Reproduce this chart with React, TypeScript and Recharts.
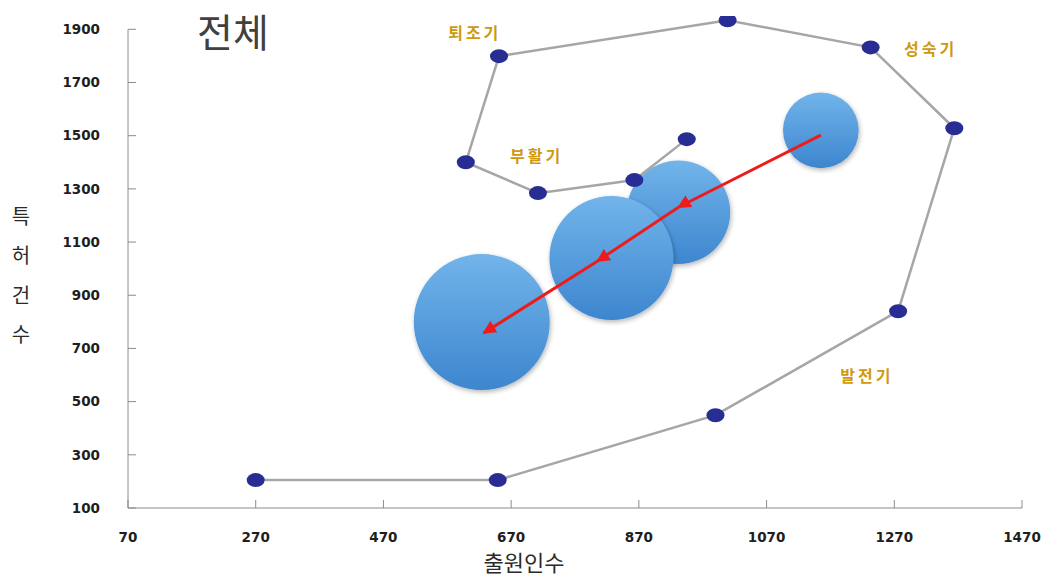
import React from 'react';
import { ScatterChart, Scatter, XAxis, YAxis, ZAxis, ReferenceLine } from 'recharts';

// axis ticks
const xTicks = [70, 270, 470, 670, 870, 1070, 1270, 1470];
const yTicks = [100, 300, 500, 700, 900, 1100, 1300, 1500, 1700, 1900];

// technology life cycle path: applicants (x) vs patents (y), in time order
const cycleApplicants = [270, 649, 990, 1276, 1364, 1233, 1009, 651, 599, 712, 863, 945];
const cyclePatents = [205, 205, 449, 840, 1528, 1832, 1934, 1799, 1400, 1284, 1333, 1487];

// period bubbles (relative size)
const bubbleApplicants = [1155, 932, 827, 624];
const bubblePatents = [1520, 1212, 1040, 799];
const bubbleSizes = [31, 58, 83, 100];

// trend arrow through the periods
const trendApplicants = [1155, 932, 805, 627];
const trendPatents = [1502, 1231, 1028, 758];

// phase annotations
const phaseNames = ['퇴조기', '성숙기', '부활기', '발전기'];
const phaseApplicants = [613, 1327, 710, 1227];
const phasePatents = [1889, 1829, 1427, 600];

const cycleData = cycleApplicants.map((x, i) => ({ x, y: cyclePatents[i] }));
const bubbleData = bubbleApplicants.map((x, i) => ({ x, y: bubblePatents[i], z: bubbleSizes[i] }));
const trendData = trendApplicants.map((x, i) => ({ x, y: trendPatents[i] }));
const phaseData = phaseNames.map((name, i) => ({ x: phaseApplicants[i], y: phasePatents[i], name }));

const axisColor = '#8c8c8c';
const tickStyle = { fontFamily: '"DejaVu Sans", sans-serif', fontSize: 13.5, fontWeight: 700, fill: '#1e1e1e' };
const krFont = '"Noto Sans CJK KR", sans-serif';

const CycleDot = (p: any) => <ellipse cx={p.cx} cy={p.cy} rx={9} ry={7} fill="#282d94" />;

const Bubble = (p: any) => {
  const r = p.size != null ? Math.sqrt(Math.max(p.size, 0) / Math.PI) : p.width / 2;
  return <circle cx={p.cx} cy={p.cy} r={r} fill="url(#bubbleFill)" filter="url(#bubbleShadow)" />;
};

const PhaseLabel = (p: any) => (
  <text
    x={p.cx}
    y={p.cy}
    textAnchor="middle"
    dominantBaseline="central"
    fontFamily={krFont}
    fontWeight={700}
    fontSize={16}
    letterSpacing={3}
    fill="#cf990f"
  >
    {p.payload.name}
  </text>
);

const Nothing = () => <g />;

const TrendLine = (lp: any) => {
  const pts = lp.points || [];
  const d = pts.map((pt: any, i: number) => `${i === 0 ? 'M' : 'L'}${pt.x},${pt.y}`).join(' ');
  return (
    <path
      d={d}
      fill="none"
      stroke="#ee1b1b"
      strokeWidth={3}
      markerMid="url(#arrowHead)"
      markerEnd="url(#arrowHead)"
    />
  );
};

export default function App() {
  return (
    <div style={{ position: 'absolute', left: 0, top: 0, background: '#fff' }}>
      <ScatterChart width={1043} height={578} margin={{ top: 16, right: 21, bottom: 0, left: 0 }}>
        <defs>
          <linearGradient id="bubbleFill" x1="0" y1="0" x2="0" y2="1">
            <stop offset="0%" stopColor="#72b4ea" />
            <stop offset="100%" stopColor="#3d86cf" />
          </linearGradient>
          <filter id="bubbleShadow" x="-20%" y="-20%" width="140%" height="140%">
            <feGaussianBlur in="SourceAlpha" stdDeviation="2.5" />
            <feOffset dx="1" dy="2" result="blur" />
            <feComponentTransfer>
              <feFuncA type="linear" slope="0.3" />
            </feComponentTransfer>
            <feMerge>
              <feMergeNode />
              <feMergeNode in="SourceGraphic" />
            </feMerge>
          </filter>
          <marker id="arrowHead" viewBox="0 0 10 10" refX="9" refY="5" markerWidth="4.5" markerHeight="4.5" orient="auto">
            <path d="M0,0 L10,5 L0,10 z" fill="#ee1b1b" />
          </marker>
        </defs>
        <XAxis
          type="number"
          dataKey="x"
          domain={[70, 1470]}
          ticks={xTicks}
          interval={0}
          height={70}
          stroke={axisColor}
          tickSize={-8}
          tickMargin={32}
          tick={tickStyle}
          allowDataOverflow
        />
        <YAxis
          type="number"
          dataKey="y"
          domain={[100, 1950]}
          ticks={yTicks}
          interval={0}
          width={128}
          stroke={axisColor}
          axisLine={false}
          tickSize={-8}
          tickMargin={36}
          tick={tickStyle}
          allowDataOverflow
        />
        <ZAxis zAxisId="bubble" type="number" dataKey="z" domain={[0, 100]} range={[0, 14527]} />
        <ReferenceLine
          segment={[
            { x: 70, y: 100 },
            { x: 70, y: 1900 },
          ]}
          stroke={axisColor}
          strokeWidth={1}
        />
        <Scatter data={bubbleData} zAxisId="bubble" shape={Bubble} isAnimationActive={false} />
        <Scatter
          data={cycleData}
          line={{ stroke: '#a6a6a6', strokeWidth: 2.5 }}
          lineType="joint"
          shape={CycleDot}
          isAnimationActive={false}
        />
        <Scatter data={trendData} line={TrendLine} lineType="joint" shape={Nothing} isAnimationActive={false} />
        <Scatter data={phaseData} shape={PhaseLabel} isAnimationActive={false} />
        <text x={233} y={30} textAnchor="middle" dominantBaseline="central" fontFamily={krFont} fontSize={39} fill="#404040">
          전체
        </text>
        <text x={524} y={561} textAnchor="middle" dominantBaseline="central" fontFamily={krFont} fontSize={22} fill="#2a2a2a">
          출원인수
        </text>
        {['특', '허', '건', '수'].map((ch, i) => (
          <text
            key={ch}
            x={21}
            y={215 + i * 39.5}
            textAnchor="middle"
            dominantBaseline="central"
            fontFamily={krFont}
            fontSize={20}
            fill="#2a2a2a"
          >
            {ch}
          </text>
        ))}
      </ScatterChart>
    </div>
  );
}
